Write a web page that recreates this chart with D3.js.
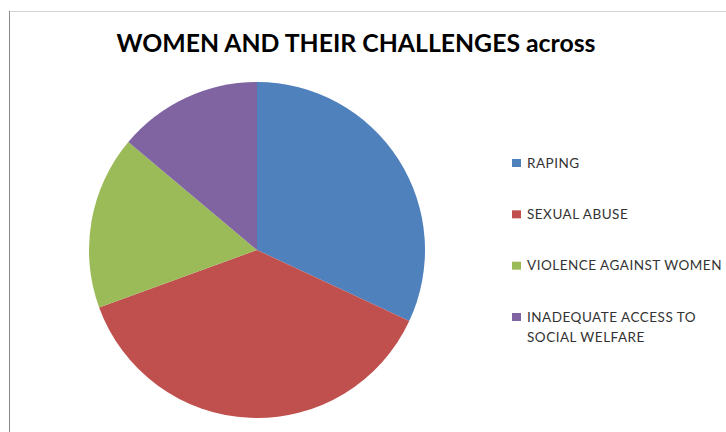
<!DOCTYPE html>
<html>
<head>
<meta charset="utf-8">
<script src="https://cdn.jsdelivr.net/npm/d3@7"></script>
<style>
  body { margin: 0; background: #fff; }
  svg { display: block; }
</style>
</head>
<body>
<script>
var titleText = "WOMEN AND THEIR CHALLENGES across";
var categories = ["RAPING", "SEXUAL ABUSE", "VIOLENCE AGAINST WOMEN", "INADEQUATE ACCESS TO|SOCIAL WELFARE"];
var counts = [23, 27, 12, 10];
var colors = ["#4f81bd", "#c0504d", "#9bbb59", "#8064a2"];

var width = 726,
    height = 432,
    radius = 168;

var data = categories.map(function(c, i) { return { name: c, count: counts[i] }; });

var svg = d3.select("body").append("svg")
    .attr("width", width)
    .attr("height", height);

// chart area border
svg.append("line").attr("x1", 9).attr("y1", 11.5).attr("x2", width).attr("y2", 11.5)
    .attr("stroke", "#d4d4d4").attr("stroke-width", 1);
svg.append("line").attr("x1", 9.5).attr("y1", 11).attr("x2", 9.5).attr("y2", height)
    .attr("stroke", "#8a8a8a").attr("stroke-width", 1);

svg.append("text")
    .attr("x", 356)
    .attr("y", 52)
    .attr("text-anchor", "middle")
    .style("font-family", "Lato, 'Open Sans', sans-serif")
    .style("font-weight", "bold")
    .style("font-size", "24.8px")
    .style("fill", "#000")
    .text(titleText);

var color = d3.scaleOrdinal().domain(categories).range(colors);

var pie = d3.pie()
    .sort(null)
    .value(function(d) { return d.count; });

var arc = d3.arc()
    .innerRadius(0)
    .outerRadius(radius);

var g = svg.append("g")
    .attr("transform", "translate(257,250)");

g.selectAll(".arc")
    .data(pie(data))
  .enter().append("path")
    .attr("class", "arc")
    .attr("d", arc)
    .style("fill", function(d) { return color(d.data.name); });

// legend
var legendY = d3.scalePoint().domain(categories).range([163, 317]);

var legend = svg.selectAll(".legend")
    .data(categories)
  .enter().append("g")
    .attr("class", "legend")
    .attr("transform", function(d) { return "translate(512," + legendY(d) + ")"; });

legend.append("rect")
    .attr("x", 0)
    .attr("y", -4)
    .attr("width", 9)
    .attr("height", 8)
    .style("fill", function(d) { return color(d); });

legend.append("text")
    .attr("x", 15)
    .attr("y", 0)
    .style("font-family", "Lato, 'Open Sans', sans-serif")
    .style("font-size", "13.5px")
    .style("letter-spacing", "0.5px")
    .style("fill", "#333")
    .selectAll("tspan")
    .data(function(d) { return d.split("|"); })
  .enter().append("tspan")
    .attr("x", 15)
    .attr("dy", function(d, i) { return i === 0 ? "0.35em" : "20px"; })
    .text(function(d) { return d; });
</script>
</body>
</html>
